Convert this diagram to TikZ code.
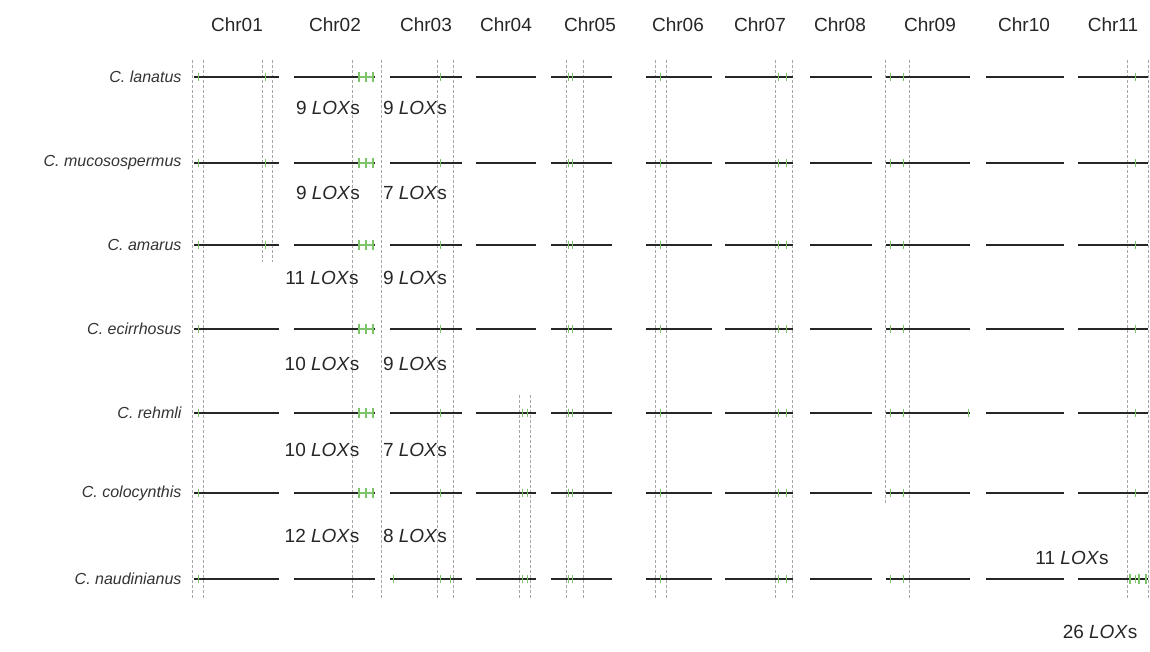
\documentclass[tikz,border=0pt]{standalone}
\usepackage{fontspec}
\setmainfont{Liberation Sans}
\definecolor{lg}{HTML}{7CC36A}
\begin{document}
\begin{tikzpicture}[x=1pt,y=-1pt,
  chr/.style={line width=1.6pt,black!85},
  vdash/.style={densely dashed,gray!70,line width=0.5pt},
  tick/.style={lg,line width=0.8pt},
  btick/.style={lg,line width=2.4pt},
  hdr/.style={font=\fontsize{19}{20}\selectfont,text=black!85},
  sp/.style={font=\fontsize{16}{17}\selectfont\itshape,anchor=east,text=black!80},
  lox/.style={font=\fontsize{19}{20}\selectfont,text=black!85}]
\useasboundingbox (0,0) rectangle (1150,652);
\foreach \x in {192,203,352,381,437,453,566,583,655,666,775,792,909,1127,1148}
  \draw[vdash] (\x,60) -- (\x,600);
\foreach \x in {262,272} \draw[vdash] (\x,60) -- (\x,262);
\foreach \x in {519,530} \draw[vdash] (\x,395) -- (\x,600);
\draw[vdash] (885,60) -- (885,505);
\foreach \n/\x in {Chr01/237,Chr02/335,Chr03/426,Chr04/506,Chr05/590,Chr06/678,Chr07/760,Chr08/840,Chr09/930,Chr10/1024,Chr11/1113}
  \node[hdr] (h\n) at (\x,25) {\n};
\foreach \s/\y [count=\i] in {C. lanatus/77,C. mucosospermus/163,C. amarus/245,C. ecirrhosus/329,C. rehmli/413,C. colocynthis/493,C. naudinianus/579}{
  \node[sp] (s\i) at (185,\y) {\s};
  \foreach \a/\b in {194/279,294/375,390/462,476/536,551/612,646/712,725/793,810/872,886/970,986/1064,1078/1148}
    \draw[chr] (\a,\y) -- (\b,\y);
  \foreach \t in {198,440,568,572,660,778,786,890,903,1135}
    \draw[tick] (\t,\y-4) -- (\t,\y+4);
}
\foreach \y in {77,163,245,329,413,493}{
  \draw[btick] (359,\y-5) -- (359,\y+5);
  \draw[tick,line width=1.3pt] (366,\y-5) -- (366,\y+5);
  \draw[tick,line width=1.3pt] (373,\y-5) -- (373,\y+5);
  \draw[tick,line width=1.2pt] (359,\y) -- (373,\y);
}
\foreach \y in {77,163,245} \draw[tick] (265,\y-4) -- (265,\y+4);
\foreach \y in {413,493,579}{\draw[tick] (522,\y-4) -- (522,\y+4);\draw[tick] (527,\y-4) -- (527,\y+4);}
\draw[tick] (968,409) -- (968,417);
\draw[tick] (393,575) -- (393,583);
\draw[tick] (450,575) -- (450,583);
\draw[btick] (1130,574) -- (1130,584);
\draw[tick,line width=1.3pt] (1139,574) -- (1139,584);
\draw[btick] (1146,574) -- (1146,584);
\node[lox] (l1a) at (328,108) {9 \textit{LOX}s};
\node[lox] (l1b) at (415,108) {9 \textit{LOX}s};
\node[lox] (l2a) at (328,193) {9 \textit{LOX}s};
\node[lox] (l2b) at (415,193) {7 \textit{LOX}s};
\node[lox] (l3a) at (322,278) {11 \textit{LOX}s};
\node[lox] (l3b) at (415,278) {9 \textit{LOX}s};
\node[lox] (l4a) at (322,364) {10 \textit{LOX}s};
\node[lox] (l4b) at (415,364) {9 \textit{LOX}s};
\node[lox] (l5a) at (322,450) {10 \textit{LOX}s};
\node[lox] (l5b) at (415,450) {7 \textit{LOX}s};
\node[lox] (l6a) at (322,536) {12 \textit{LOX}s};
\node[lox] (l6b) at (415,536) {8 \textit{LOX}s};
\node[lox] (l7a) at (1072,558) {11 \textit{LOX}s};
\node[lox] (l7b) at (1100,632) {26 \textit{LOX}s};
\end{tikzpicture}
\end{document}
